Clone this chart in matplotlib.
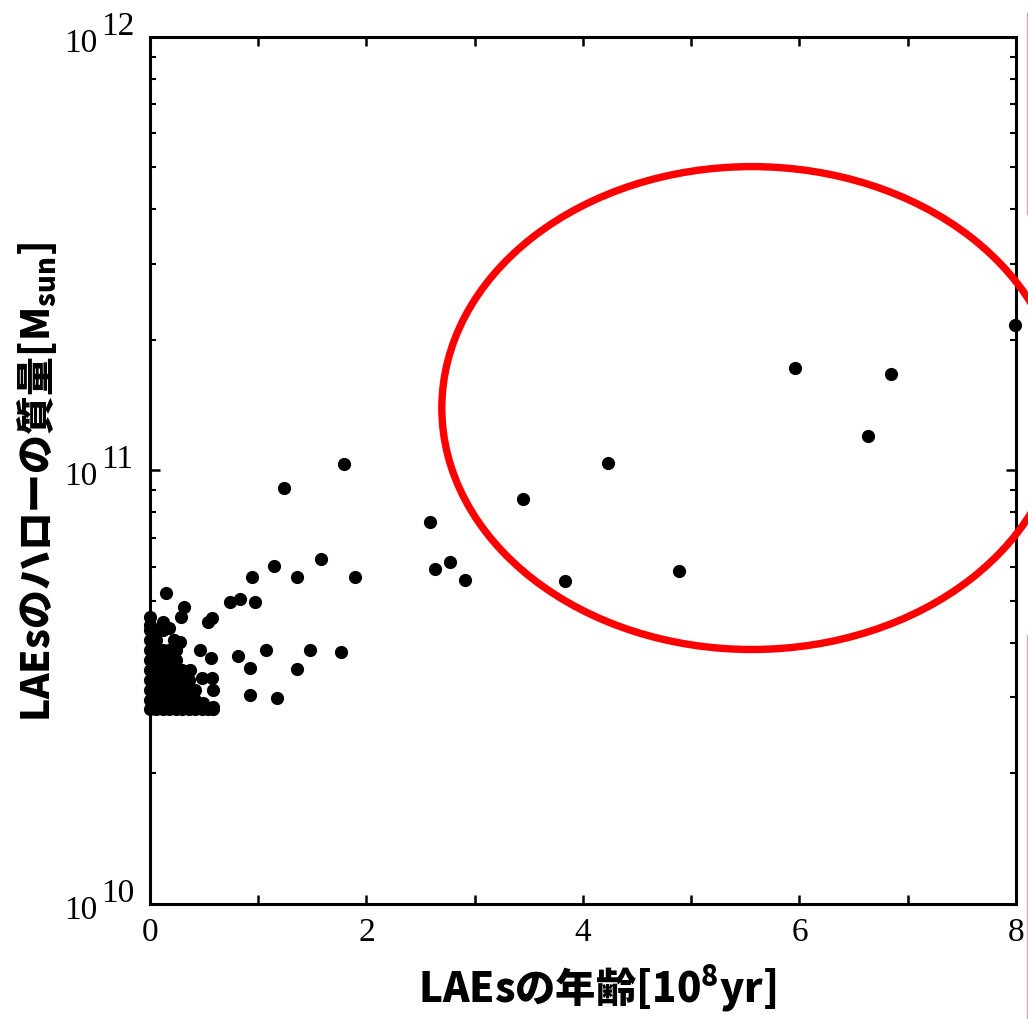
import numpy as np
import matplotlib
matplotlib.use('Agg')
import matplotlib.pyplot as plt
from matplotlib.patches import Ellipse
from matplotlib.lines import Line2D
from matplotlib.ticker import MultipleLocator, LogLocator, FuncFormatter, NullFormatter

OUTPUT_PATH = 'out.png'

# LAE age [1e8 yr] vs halo mass [Msun] -- isolated objects
age_outer = [7.99, 5.96, 6.85, 6.63, 4.23, 3.45, 2.59, 2.77, 2.63, 2.91, 3.83, 4.89,
             1.79, 1.24, 1.58, 1.15, 0.945, 1.36, 1.89, 0.74, 0.83, 0.97, 0.57, 0.54,
             0.81, 1.07, 0.92, 1.48, 1.36, 1.76, 0.92, 1.17]
mass_outer = [2.17e11, 1.72e11, 1.67e11, 1.20e11, 1.04e11, 8.6e10, 7.61e10, 6.16e10,
              5.93e10, 5.60e10, 5.56e10, 5.87e10, 1.035e11, 9.1e10, 6.26e10, 6.02e10,
              5.69e10, 5.69e10, 5.69e10, 4.97e10, 5.05e10, 4.97e10, 4.57e10, 4.48e10,
              3.73e10, 3.85e10, 3.50e10, 3.85e10, 3.48e10, 3.82e10, 3.03e10, 2.99e10]

# young objects piled up near the mass floor
age_young = [0.145, 0.31, 0.29, 0.0, 0.12, 0.18, 0.28, 0.46, 0.56, 0.37, 0.48, 0.57,
             0.58, 0.49, 0.58,
             0.0, 0.06, 0.12, 0.18, 0.24, 0.30, 0.36, 0.42, 0.48, 0.54, 0.58,
             0.0, 0.06, 0.12, 0.18, 0.24, 0.30, 0.36, 0.42,
             0.0, 0.06, 0.12, 0.18, 0.24, 0.30, 0.36, 0.42,
             0.0, 0.06, 0.12, 0.18, 0.24, 0.30, 0.36,
             0.0, 0.06, 0.12, 0.18, 0.24, 0.30,
             0.0, 0.06, 0.12, 0.18, 0.24,
             0.0, 0.06, 0.12, 0.18, 0.24,
             0.0, 0.06, 0.22,
             0.0, 0.06, 0.12,
             0.0]
mass_young = [5.21e10, 4.85e10, 4.58e10, 4.60e10, 4.48e10, 4.33e10, 4.03e10, 3.85e10,
              3.70e10, 3.46e10, 3.32e10, 3.32e10, 3.12e10, 2.91e10, 2.85e10,
              2.82e10, 2.82e10, 2.82e10, 2.82e10, 2.82e10, 2.82e10, 2.82e10, 2.82e10,
              2.82e10, 2.82e10, 2.82e10,
              2.95e10, 2.95e10, 2.95e10, 2.95e10, 2.95e10, 2.95e10, 2.95e10, 2.95e10,
              3.12e10, 3.12e10, 3.12e10, 3.12e10, 3.12e10, 3.12e10, 3.12e10, 3.12e10,
              3.29e10, 3.29e10, 3.29e10, 3.29e10, 3.29e10, 3.29e10, 3.29e10,
              3.47e10, 3.47e10, 3.47e10, 3.47e10, 3.47e10, 3.47e10,
              3.66e10, 3.66e10, 3.66e10, 3.66e10, 3.66e10,
              3.85e10, 3.85e10, 3.85e10, 3.85e10, 3.85e10,
              4.06e10, 4.06e10, 4.06e10,
              4.29e10, 4.29e10, 4.29e10,
              4.40e10]

x_ticks = [0, 2, 4, 6, 8]
y_exponents = [10, 11, 12]

tick_font = ['Liberation Serif', 'DejaVu Serif']
label_font = ['Noto Sans CJK JP', 'DejaVu Sans']

fig = plt.figure(figsize=(10.28, 10.19), dpi=100)
ax = fig.add_axes([0.1459, 0.1129, 0.8424, 0.8508])

ax.plot(age_young, mass_young, 'o', color='black', markersize=9.5,
        markeredgewidth=0, clip_on=False, zorder=3)
ax.plot(age_outer, mass_outer, 'o', color='black', markersize=9.5,
        markeredgewidth=0, clip_on=False, zorder=3)

ax.set_yscale('log')
ax.set_xlim(x_ticks[0], x_ticks[-1])
ax.set_ylim(10.0 ** y_exponents[0], 10.0 ** y_exponents[-1])

ax.xaxis.set_major_locator(MultipleLocator(2))
ax.xaxis.set_minor_locator(MultipleLocator(1))
ax.yaxis.set_major_locator(LogLocator(base=10))
ax.yaxis.set_minor_locator(LogLocator(base=10, subs=np.arange(2, 10)))
ax.yaxis.set_major_formatter(NullFormatter())
ax.yaxis.set_minor_formatter(NullFormatter())
ax.xaxis.set_major_formatter(FuncFormatter(lambda v, p: f'{v:g}'))

for s in ax.spines.values():
    s.set_linewidth(2.2)
ax.tick_params(which='both', direction='in', top=True, right=True, colors='black')
ax.tick_params(axis='x', which='both', length=6.5, width=1.8, pad=10)
ax.tick_params(axis='y', which='major', length=7, width=1.8)
ax.tick_params(axis='y', which='minor', length=4, width=1.5)
for lab in ax.get_xticklabels():
    lab.set_family(tick_font)
    lab.set_fontsize(24)

# decade labels: the exponent is set at full size, raised beside the base
for d in y_exponents:
    ax.annotate('10', xy=(0, 10.0 ** d), xycoords=('axes fraction', 'data'),
                xytext=(-53, -15), textcoords='offset pixels', ha='right',
                va='baseline', fontsize=24, family=tick_font, annotation_clip=False)
    ax.annotate(str(d), xy=(0, 10.0 ** d), xycoords=('axes fraction', 'data'),
                xytext=(-49, 2), textcoords='offset pixels', ha='left',
                va='baseline', fontsize=24, family=tick_font, annotation_clip=False)

ax.set_xlabel(r'LAEsの年齢[10$\mathregular{^8}$yr]', family=label_font,
              fontsize=29, fontweight='black', va='baseline')
ax.set_ylabel(r'LAEsのハローの質量[M$\mathregular{_{sun}}$]', family=label_font,
              fontsize=28, fontweight='black', va='baseline')
ax.xaxis.set_label_coords(0.517, -0.1142)
ax.yaxis.set_label_coords(-0.1155, 0.487)

# highlight the old, massive population
ax.add_patch(Ellipse((0.695, 0.572), 0.716, 0.557, transform=ax.transAxes,
                     fill=False, edgecolor='red', linewidth=5.3, clip_on=False,
                     zorder=4))

# thin border along the right edge of the slide
for y0, y1 in [(0.987, 0.79), (0.377, 0.0)]:
    fig.add_artist(Line2D([0.999, 0.999], [y0, y1], color='#f4a0a0', linewidth=1))

fig.savefig(OUTPUT_PATH, dpi=100)
